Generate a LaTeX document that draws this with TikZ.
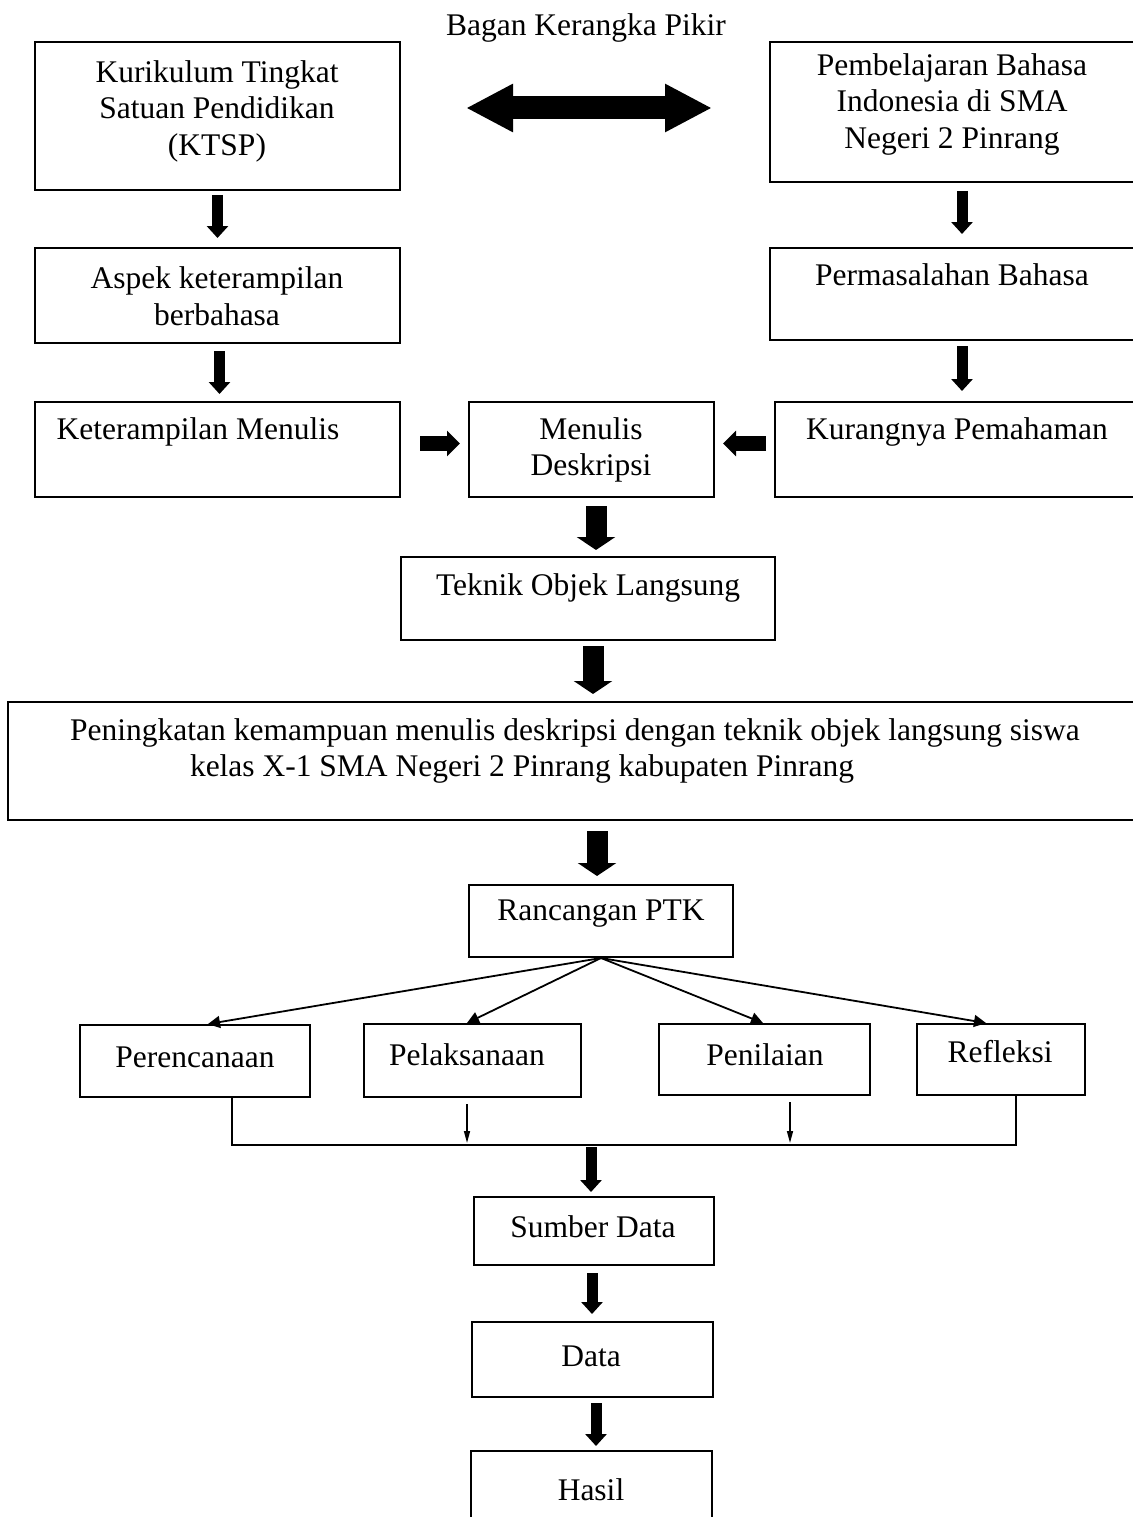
\documentclass[tikz,border=0pt]{standalone}
\usepackage{fontspec}
\setmainfont{Liberation Serif}
\usetikzlibrary{arrows.meta}

\tikzset{
    box/.style={draw, line width=2pt, inner sep=0pt},
    txt/.style={font=\fontsize{31.5}{36.5}\selectfont, align=center, inner sep=0pt},
    blk/.style={line width=11pt, -{Triangle[width=21pt,length=12pt]}},
    bigblk/.style={line width=21pt, -{Triangle[width=38pt,length=13pt]}},
    sideblk/.style={line width=15pt, -{Triangle[width=25pt,length=13pt]}},
    twin/.style={line width=23pt, {Triangle[width=45pt,length=47pt]}-{Triangle[width=45pt,length=47pt]}},
    link/.style={line width=1.8pt, -{Triangle[width=12pt,length=12pt]}},
    drop/.style={line width=1.5pt, -{Triangle[width=6pt,length=12pt]}}
}

\begin{document}
\begin{tikzpicture}[x=1pt, y=-1pt]
    \useasboundingbox (0,0) rectangle (1132,1517);

    % Title
    \node[txt] (title) at (586,28) {Bagan Kerangka Pikir};

    % Boxes
    \node[box, minimum width=365pt, minimum height=148pt] (ktsp) at (217.5,116) {};
    \node[box, minimum width=370pt, minimum height=140pt] (pbi) at (955,112) {};
    \node[box, minimum width=365pt, minimum height=95pt] (aspek) at (217.5,295.5) {};
    \node[box, minimum width=370pt, minimum height=92pt] (masalah) at (955,294) {};
    \node[box, minimum width=365pt, minimum height=95pt] (ketmen) at (217.5,449.5) {};
    \node[box, minimum width=245pt, minimum height=95pt] (mendes) at (591.5,449.5) {};
    \node[box, minimum width=365pt, minimum height=95pt] (kurang) at (957.5,449.5) {};
    \node[box, minimum width=374pt, minimum height=83pt] (teknik) at (588,598.5) {};
    \node[box, minimum width=1132pt, minimum height=118pt] (ningkat) at (574,761) {};
    \node[box, minimum width=264pt, minimum height=72pt] (ranc) at (601,921) {};
    \node[box, minimum width=230pt, minimum height=72pt] (perenc) at (195,1061) {};
    \node[box, minimum width=217pt, minimum height=73pt] (pelak) at (472.5,1060.5) {};
    \node[box, minimum width=211pt, minimum height=71pt] (nilai) at (764.5,1059.5) {};
    \node[box, minimum width=168pt, minimum height=71pt] (refl) at (1001,1059.5) {};
    \node[box, minimum width=240pt, minimum height=68pt] (sumber) at (594,1231) {};
    \node[box, minimum width=241pt, minimum height=75pt] (data) at (592.5,1359.5) {};
    \node[box, minimum width=241pt, minimum height=89pt] (hasil) at (591.5,1495.5) {};

    % Texts
    \node[txt] (ktsp-t) at (217,111) {Kurikulum Tingkat\\Satuan Pendidikan\\(KTSP)};
    \node[txt] (pbi-t) at (952,104) {Pembelajaran Bahasa\\Indonesia di SMA\\Negeri 2 Pinrang};
    \node[txt] (aspek-t) at (217,296) {Aspek keterampilan\\berbahasa};
    \node[txt] (masalah-t) at (952,275) {Permasalahan Bahasa};
    \node[txt] (ketmen-t) at (198,432) {Keterampilan Menulis};
    \node[txt] (mendes-t) at (591,450) {Menulis\\Deskripsi};
    \node[txt] (kurang-t) at (957,432) {Kurangnya Pemahaman};
    \node[txt] (teknik-t) at (588,588) {Teknik Objek Langsung};
    \node[txt] (ningkat-t) at (575,751) {Peningkatan kemampuan menulis deskripsi dengan teknik objek langsung siswa\\kelas X-1 SMA Negeri 2 Pinrang kabupaten Pinrang\hspace*{106pt}};
    \node[txt] (ranc-t) at (601,914) {Rancangan PTK};
    \node[txt] (perenc-t) at (195,1057) {Perencanaan};
    \node[txt] (pelak-t) at (467,1055) {Pelaksanaan};
    \node[txt] (nilai-t) at (765,1055) {Penilaian};
    \node[txt] (refl-t) at (1000,1052) {Refleksi};
    \node[txt] (sumber-t) at (593,1227) {Sumber Data};
    \node[txt] (data-t) at (591,1356) {Data};
    \node[txt] (hasil-t) at (591,1490) {Hasil};

    % Block arrows
    \draw[twin, shorten <=65pt, shorten >=57pt] ([yshift=8pt]ktsp.east) -- ([yshift=8pt]ktsp.east -| pbi.west);
    \draw[blk, shorten <=4pt, shorten >=9pt] (ktsp.south) -- (aspek.north);
    \draw[blk, shorten <=7pt, shorten >=7pt] ([xshift=2pt]aspek.south) -- ([xshift=2pt]ketmen.north);
    \draw[blk, shorten <=8pt, shorten >=13pt] ([xshift=7pt]pbi.south) -- ([xshift=7pt]masalah.north);
    \draw[blk, shorten <=5pt, shorten >=10pt] ([xshift=7pt]masalah.south) -- ([xshift=7pt]masalah.south |- kurang.north);
    \draw[sideblk, shorten <=19pt, shorten >=8pt] ([yshift=6pt]ketmen.east) -- ([yshift=6pt]mendes.west);
    \draw[sideblk, shorten <=8pt, shorten >=8pt] ([yshift=6pt]kurang.west) -- ([yshift=6pt]mendes.east);
    \draw[bigblk, shorten <=8pt, shorten >=6pt] ([xshift=4.5pt]mendes.south) -- ([xshift=4.5pt]mendes.south |- teknik.north);
    \draw[bigblk, shorten <=5pt, shorten >=7pt] ([xshift=5pt]teknik.south) -- ([xshift=5pt]teknik.south |- ningkat.north);
    \draw[bigblk, shorten <=10pt, shorten >=8pt] ([xshift=-4pt]ranc.north |- ningkat.south) -- ([xshift=-4pt]ranc.north);

    % Rancangan branches
    \draw[link] (ranc.south) -- ([xshift=13pt]perenc.north);
    \draw[link] (ranc.south) -- ([xshift=-5.5pt]pelak.north);
    \draw[link] (ranc.south) -- ([xshift=-1.5pt]nilai.north);
    \draw[link] (ranc.south) -- ([xshift=-15pt]refl.north);

    % Collecting line
    \coordinate (join) at (591,1145);
    \draw[line width=1.8pt] ([xshift=37pt]perenc.south) |- (join) -| ([xshift=15pt]refl.south);
    \draw[drop, shorten <=6pt, shorten >=2pt] ([xshift=-5.5pt]pelak.south) -- ([xshift=-5.5pt]pelak.south |- join);
    \draw[drop, shorten <=6pt, shorten >=2pt] ([xshift=25.5pt]nilai.south) -- ([xshift=25.5pt]nilai.south |- join);

    % Lower chain
    \draw[blk, shorten <=2pt, shorten >=4pt] (join) -- (join |- sumber.north);
    \draw[blk, shorten <=7pt, shorten >=7pt] ([xshift=-2pt]sumber.south) -- ([xshift=-2pt]sumber.south |- data.north);
    \draw[blk, shorten <=5pt, shorten >=4pt] ([xshift=3.5pt]data.south) -- ([xshift=3.5pt]data.south |- hasil.north);
\end{tikzpicture}
\end{document}
